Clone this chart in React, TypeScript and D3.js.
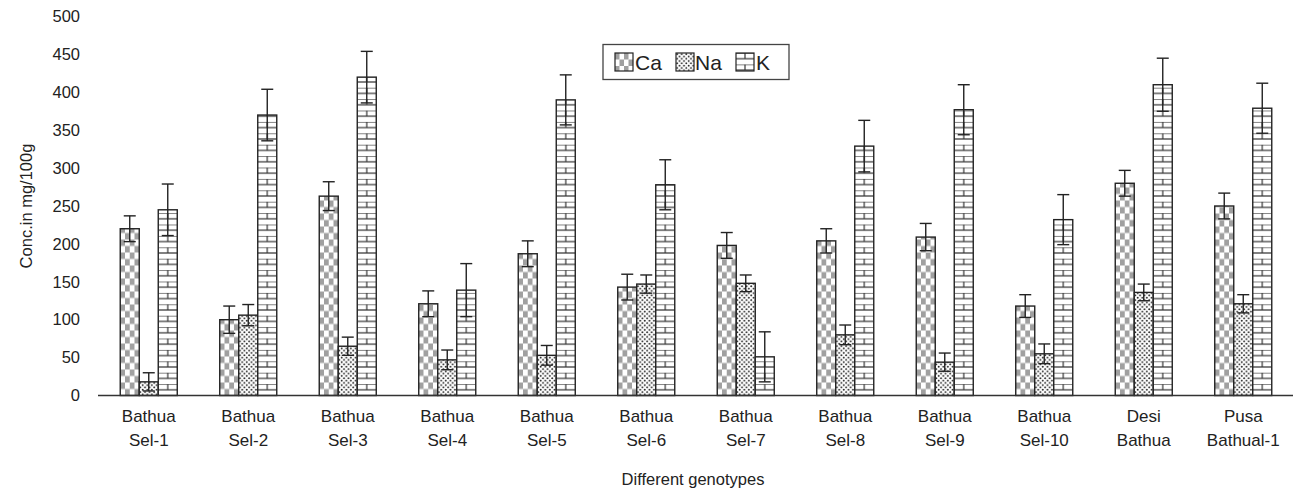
import React from "react";
import * as d3 from "d3";

const categories = [
  ["Bathua", "Sel-1"], ["Bathua", "Sel-2"], ["Bathua", "Sel-3"], ["Bathua", "Sel-4"],
  ["Bathua", "Sel-5"], ["Bathua", "Sel-6"], ["Bathua", "Sel-7"], ["Bathua", "Sel-8"],
  ["Bathua", "Sel-9"], ["Bathua", "Sel-10"], ["Desi", "Bathua"], ["Pusa", "Bathual-1"],
];
const seriesKeys = ["Ca", "Na", "K"];
const caValues = [220, 100, 263, 121, 187, 143, 198, 204, 209, 118, 280, 250];
const naValues = [18, 106, 65, 47, 53, 147, 148, 80, 44, 55, 136, 121];
const kValues = [245, 370, 420, 139, 390, 278, 51, 329, 377, 232, 410, 379];
const caErrors = [17, 18, 19, 17, 17, 17, 17, 16, 18, 15, 17, 17];
const naErrors = [12, 14, 12, 13, 13, 12, 11, 13, 12, 13, 11, 12];
const kErrors = [34, 34, 34, 35, 33, 33, 33, 34, 33, 33, 35, 33];
const yTicks = [0, 50, 100, 150, 200, 250, 300, 350, 400, 450, 500];

const W = 1293, H = 490;
const FONT = "'Liberation Sans', Arial, Helvetica, sans-serif";

export default function App() {
  const x0 = d3.scaleBand<number>().domain(d3.range(categories.length)).range([99, 1293]).paddingInner(0.427).paddingOuter(0.2135);
  const x1 = d3.scaleBand<string>().domain(seriesKeys).range([0, x0.bandwidth()]);
  const y = d3.scaleLinear().domain([0, 500]).range([395.5, 16.5]);
  const values: Record<string, number[]> = { Ca: caValues, Na: naValues, K: kValues };
  const errors: Record<string, number[]> = { Ca: caErrors, Na: naErrors, K: kErrors };
  const bw = x1.bandwidth();

  const patternFor = (key: string, id: string, px: number, py: number, w: number) => {
    if (key === "Ca") {
      const cw = w / 4, ch = 6.5;
      return (
        <pattern key={id} id={id} patternUnits="userSpaceOnUse" x={px} y={py} width={cw * 2} height={ch * 2}>
          <rect width={cw * 2} height={ch * 2} fill="#fff" />
          <rect x={0} y={0} width={cw} height={ch} fill="#a0a0a0" />
          <rect x={cw} y={ch} width={cw} height={ch} fill="#a0a0a0" />
        </pattern>
      );
    }
    if (key === "Na") {
      return (
        <pattern key={id} id={id} patternUnits="userSpaceOnUse" x={px} y={py} width={4.6} height={4.6}>
          <rect width={4.6} height={4.6} fill="#fff" />
          <circle cx={1.15} cy={1.15} r={0.95} fill="#222" />
          <circle cx={3.45} cy={3.45} r={0.95} fill="#222" />
        </pattern>
      );
    }
    const rh = 5.7;
    return (
      <pattern key={id} id={id} patternUnits="userSpaceOnUse" x={px} y={py} width={w} height={rh * 2}>
        <rect width={w} height={rh * 2} fill="#fff" />
        <line x1={0} x2={w} y1={0} y2={0} stroke="#333" strokeWidth={1.2} />
        <line x1={0} x2={w} y1={rh} y2={rh} stroke="#333" strokeWidth={1.2} />
        <line x1={w / 2} x2={w / 2} y1={0} y2={rh} stroke="#333" strokeWidth={1.2} />
      </pattern>
    );
  };

  const defs: React.ReactNode[] = [];
  categories.forEach((_, i) => {
    seriesKeys.forEach((k) => {
      const bx = (x0(i) as number) + (x1(k) as number);
      defs.push(patternFor(k, `p-${k}-${i}`, bx, y(0), bw));
    });
  });
  const legendX = [615, 676, 736];
  const legendLabelX = [635, 695, 756];
  seriesKeys.forEach((k, j) => defs.push(patternFor(k, `lg-${k}`, legendX[j], 53, 18)));

  return (
    <svg width={W} height={H} style={{ position: "absolute", left: 0, top: 0, background: "#fff" }} fontFamily={FONT}>
      <defs>{defs}</defs>
      <rect width={W} height={H} fill="#fff" />
      {yTicks.map((t) => (
        <text key={t} x={80} y={y(t)} dy="0.35em" textAnchor="end" fontSize={16.5} fill="#222">{t}</text>
      ))}
      <text transform={`translate(32,206) rotate(-90)`} textAnchor="middle" fontSize={16.5} fill="#222">Conc.in mg/100g</text>
      {categories.map((_, i) =>
        seriesKeys.map((k) => {
          const v = values[k][i];
          const bx = (x0(i) as number) + (x1(k) as number);
          return (
            <rect key={`b-${k}-${i}`} x={bx} y={y(v)} width={bw} height={y(0) - y(v)} fill={`url(#p-${k}-${i})`} stroke="#222" strokeWidth={1.4} />
          );
        })
      )}
      {categories.map((_, i) =>
        seriesKeys.map((k) => {
          const v = values[k][i];
          const e = errors[k][i];
          const cx = (x0(i) as number) + (x1(k) as number) + bw / 2;
          return (
            <g key={`e-${k}-${i}`} stroke="#222" strokeWidth={1.4}>
              <line x1={cx} x2={cx} y1={y(v + e)} y2={y(Math.max(0, v - e))} />
              <line x1={cx - 6} x2={cx + 6} y1={y(v + e)} y2={y(v + e)} />
              <line x1={cx - 6} x2={cx + 6} y1={y(Math.max(0, v - e))} y2={y(Math.max(0, v - e))} />
            </g>
          );
        })
      )}
      <line x1={98} x2={1293} y1={y(0)} y2={y(0)} stroke="#333" strokeWidth={1.5} />
      {categories.map((c, i) => {
        const cx = (x0(i) as number) + x0.bandwidth() / 2;
        return (
          <text key={`c-${i}`} x={cx} textAnchor="middle" fontSize={17} fill="#222">
            <tspan x={cx} y={422}>{c[0]}</tspan>
            <tspan x={cx} y={446}>{c[1]}</tspan>
          </text>
        );
      })}
      <text x={693} y={485} textAnchor="middle" fontSize={16.5} fill="#222">Different genotypes</text>
      <rect x={603} y={44.5} width={186} height={35} fill="#fff" stroke="#444" strokeWidth={1.3} />
      {seriesKeys.map((k, j) => (
        <g key={`lg-${k}`}>
          <rect x={legendX[j]} y={53} width={18} height={18} fill={`url(#lg-${k})`} stroke="#222" strokeWidth={1.2} />
          <text x={legendLabelX[j]} y={62} dy="0.36em" fontSize={21} fill="#222">{k}</text>
        </g>
      ))}
    </svg>
  );
}
